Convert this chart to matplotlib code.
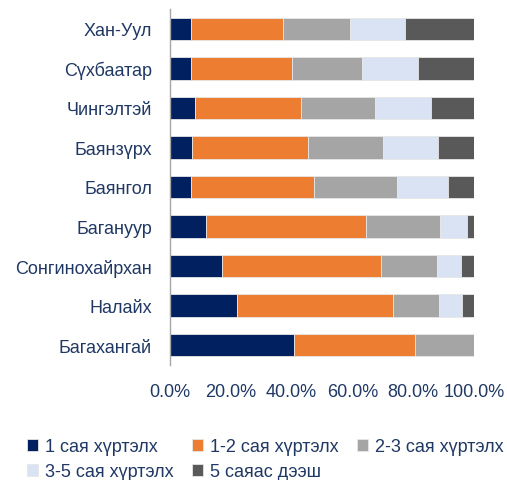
import matplotlib
matplotlib.use("Agg")
import matplotlib.pyplot as plt
import numpy as np

plt.rcParams['font.family'] = ['Liberation Sans', 'DejaVu Sans']

districts = ['Хан-Уул', 'Сүхбаатар', 'Чингэлтэй', 'Баянзүрх', 'Баянгол',
             'Багануур', 'Сонгинохайрхан', 'Налайх', 'Багахангай']

under_1m = [6.9, 6.9, 8.1, 7.1, 6.9, 11.9, 17.2, 22.0, 40.7]
m1_2 = [30.3, 33.2, 35.1, 38.2, 40.5, 52.6, 52.1, 51.4, 39.8]
m2_3 = [22.1, 23.2, 24.2, 24.8, 27.3, 24.2, 18.4, 15.0, 19.5]
m3_5 = [18.1, 18.3, 18.5, 18.1, 16.6, 9.0, 8.0, 7.7, 0.0]
over_5m = [22.6, 18.4, 14.1, 11.8, 8.7, 2.3, 4.3, 3.9, 0.0]

series_names = ['1 сая хүртэлх', '1-2 сая хүртэлх', '2-3 сая хүртэлх',
                '3-5 сая хүртэлх', '5 саяас дээш']
colors = ['#002060', '#ED7D31', '#A5A5A5', '#DAE3F3', '#595959']
text_color = '#203864'

fig = plt.figure(figsize=(5.07, 4.81), dpi=100)
ax = fig.add_axes([170/507, 1 - 366/481, 304/507, 356/481])

y = np.arange(len(districts))
left = np.zeros(len(districts))
for vals, name, c in zip([under_1m, m1_2, m2_3, m3_5, over_5m], series_names, colors):
    vals = np.array(vals)
    ax.barh(y, vals, left=left, height=0.57, color=c, edgecolor='#E6E6E6',
            linewidth=0.6, label=name)
    left += vals

ax.set_xlim(0, 100)
ax.set_ylim(len(districts) - 0.5, -0.5)
ax.set_yticks(y)
ax.set_yticklabels(districts)
ax.set_xticks(np.arange(0, 101, 20))
ax.set_xticklabels([f'{v:.1f}%' for v in np.arange(0, 101, 20)])

for s in ['top', 'right', 'bottom']:
    ax.spines[s].set_visible(False)
ax.spines['left'].set_color('#A6A6A6')
ax.spines['left'].set_linewidth(1.0)
ax.tick_params(axis='both', length=0, labelsize=13, colors=text_color)
ax.tick_params(axis='y', pad=13)
ax.tick_params(axis='x', pad=13)

# legend fills columns first, reorder so it reads row by row
handles, labels = ax.get_legend_handles_labels()
order = [0, 3, 1, 4, 2]
fig.legend([handles[i] for i in order], [labels[i] for i in order],
           loc='upper left', bbox_to_anchor=(20/507, 1 - 432/481), ncol=3,
           frameon=False, fontsize=13, labelcolor=text_color,
           handlelength=0.6, handleheight=0.6, handletextpad=0.4,
           columnspacing=1.0, borderaxespad=0, labelspacing=0.45)

fig.savefig('out.png', dpi=100)
